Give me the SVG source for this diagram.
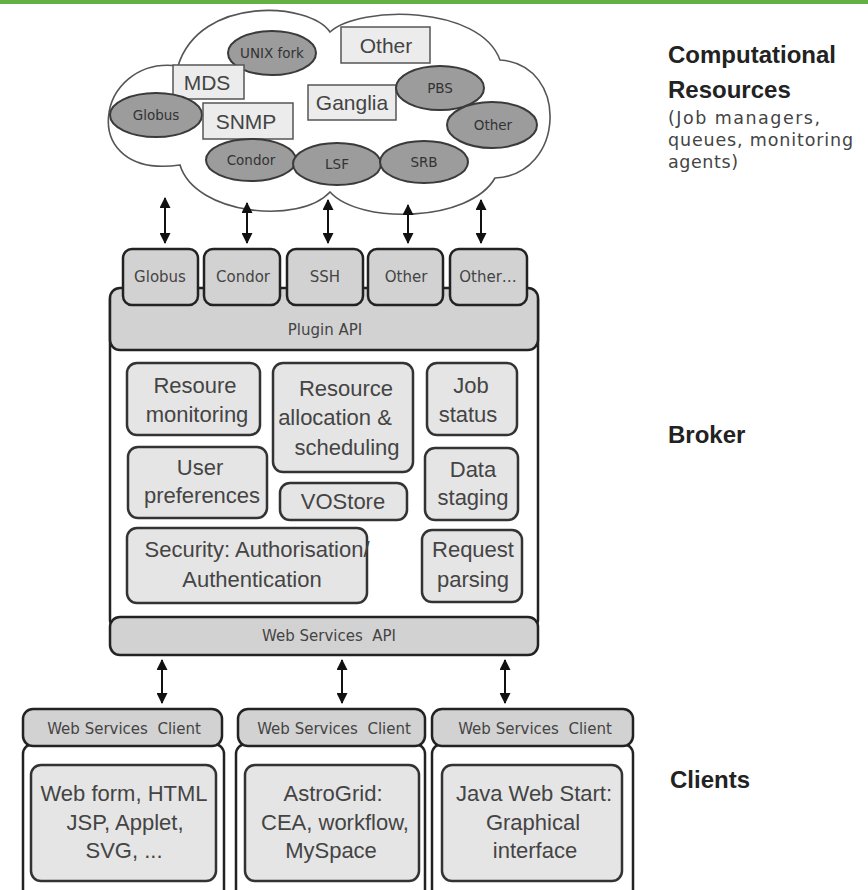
<svg xmlns="http://www.w3.org/2000/svg" width="868" height="890" viewBox="0 0 868 890">
<style>
.ell{fill:#9c9c9c;stroke:#3a3a3a;stroke-width:2}
.rc{fill:#ececec;stroke:#555;stroke-width:1.5}
.et{font-family:"DejaVu Sans",sans-serif;font-size:13.5px;fill:#333;text-anchor:middle}
.rt{font-family:"Liberation Sans",Arial,sans-serif;font-size:21px;fill:#444;text-anchor:middle}
.pb{fill:#d2d2d2;stroke:#222;stroke-width:2.5}
.pt{font-family:"DejaVu Sans",sans-serif;font-size:15px;fill:#444;text-anchor:middle}
.ib{fill:#e5e5e5;stroke:#333;stroke-width:2.5}
.it{font-family:"Liberation Sans",Arial,sans-serif;font-size:22px;fill:#444;text-anchor:middle}
.wb{fill:#fff;stroke:#222;stroke-width:2.5}
.lab{font-family:"Liberation Sans",Arial,sans-serif;font-size:24px;font-weight:bold;fill:#222}
.sub{font-family:"DejaVu Sans",sans-serif;font-size:17.5px;fill:#444}
.conn{stroke:#111;stroke-width:2;fill:none;marker-start:url(#ah);marker-end:url(#ah)}
</style>
<defs>
<marker id="ah" viewBox="0 0 10 10" refX="9" refY="5" markerWidth="12" markerHeight="11" markerUnits="userSpaceOnUse" orient="auto-start-reverse"><path d="M0,0 L10,5 L0,10 z" fill="#111"/></marker>
</defs>
<rect x="0" y="0" width="868" height="890" fill="#fff"/>
<rect x="0" y="0" width="868" height="4" fill="#62b046"/>

<g id="cloud">
<path d="M330,32 C310,2 200,-5 178,66 C95,55 75,180 180,165 C195,215 300,225 330,192 C360,225 470,222 495,178 C565,175 570,65 500,60 C480,5 360,5 330,32 Z" fill="#fff" stroke="#555" stroke-width="1.6"/>
</g>
<g id="res-unixfork"><ellipse class="ell" cx="272" cy="53" rx="44" ry="22"/><text class="et" x="272" y="58" font-size="12">UNIX fork</text></g>
<g id="res-other-rect"><rect class="rc" x="341" y="27" width="89" height="36"/><text class="rt" x="386" y="53">Other</text></g>
<g id="res-mds"><rect class="rc" x="173" y="65" width="71" height="34"/><text class="rt" x="207" y="90">MDS</text></g>
<g id="res-globus"><ellipse class="ell" cx="156" cy="115" rx="46" ry="22"/><text class="et" x="156" y="120">Globus</text></g>
<g id="res-snmp"><rect class="rc" x="203" y="103" width="90" height="36"/><text class="rt" x="246" y="129">SNMP</text></g>
<g id="res-ganglia"><rect class="rc" x="308" y="85" width="88" height="35"/><text class="rt" x="352" y="110">Ganglia</text></g>
<g id="res-pbs"><ellipse class="ell" cx="440" cy="88" rx="44" ry="22"/><text class="et" x="440" y="93">PBS</text></g>
<g id="res-other-ell"><ellipse class="ell" cx="492" cy="125" rx="45" ry="23"/><text class="et" x="493" y="130">Other</text></g>
<g id="res-condor"><ellipse class="ell" cx="251" cy="160" rx="45" ry="21"/><text class="et" x="251" y="165">Condor</text></g>
<g id="res-lsf"><ellipse class="ell" cx="337" cy="164" rx="44" ry="21"/><text class="et" x="337" y="169">LSF</text></g>
<g id="res-srb"><ellipse class="ell" cx="424" cy="162" rx="44" ry="21"/><text class="et" x="424" y="167">SRB</text></g>

<g id="broker-body"><rect class="wb" x="110" y="290" width="428" height="340" rx="10"/></g>
<g id="plugin-api"><rect class="pb" x="110" y="288" width="428" height="62" rx="10"/><text class="pt" x="325" y="335" font-size="14">Plugin API</text></g>
<g id="p-globus"><rect class="pb" x="123" y="249" width="75" height="56" rx="9"/><text class="pt" x="160" y="282">Globus</text></g>
<g id="p-condor"><rect class="pb" x="204" y="249" width="76" height="56" rx="9"/><text class="pt" x="243" y="282">Condor</text></g>
<g id="p-ssh"><rect class="pb" x="287" y="249" width="76" height="56" rx="9"/><text class="pt" x="325" y="282">SSH</text></g>
<g id="p-other"><rect class="pb" x="368" y="249" width="75" height="56" rx="9"/><text class="pt" x="406" y="282">Other</text></g>
<g id="p-other2"><rect class="pb" x="450" y="249" width="77" height="56" rx="9"/><text class="pt" x="488" y="282">Other…</text></g>

<g id="b-monitoring"><rect class="ib" x="127" y="363" width="133" height="72" rx="10"/><text class="it" x="195" y="393">Resoure</text><text class="it" x="197" y="422">monitoring</text></g>
<g id="b-alloc"><rect class="ib" x="273" y="363" width="140" height="109" rx="10"/><text class="it" x="346" y="396">Resource</text><text class="it" x="335" y="425" font-size="18">allocation &amp;</text><text class="it" x="347" y="455">scheduling</text></g>
<g id="b-job"><rect class="ib" x="427" y="363" width="90" height="72" rx="10"/><text class="it" x="471" y="393">Job</text><text class="it" x="468" y="422" font-size="18">status</text></g>
<g id="b-user"><rect class="ib" x="128" y="447" width="139" height="71" rx="10"/><text class="it" x="200" y="475">User</text><text class="it" x="202" y="503">preferences</text></g>
<g id="b-vostore"><rect class="ib" x="280" y="483" width="127" height="37" rx="10"/><text class="it" x="343" y="509">VOStore</text></g>
<g id="b-data"><rect class="ib" x="425" y="448" width="93" height="72" rx="10"/><text class="it" x="473" y="477">Data</text><text class="it" x="473" y="505">staging</text></g>
<g id="b-security"><rect class="ib" x="127" y="528" width="240" height="75" rx="10"/><text class="it" x="257" y="557">Security: Authorisation/</text><text class="it" x="252" y="587">Authentication</text></g>
<g id="b-request"><rect class="ib" x="422" y="530" width="100" height="72" rx="10"/><text class="it" x="473" y="557">Request</text><text class="it" x="473" y="587">parsing</text></g>

<g id="ws-api"><rect class="pb" x="110" y="617" width="428" height="38" rx="10"/><text class="pt" x="329" y="641" font-size="14" xml:space="preserve">Web Services  API</text></g>

<g id="client1"><rect class="wb" x="23" y="744" width="201" height="160" rx="10"/><rect class="pb" x="23" y="709" width="199" height="37" rx="10"/><text class="pt" x="124" y="734" font-size="14" xml:space="preserve">Web Services  Client</text><rect class="ib" x="31" y="765" width="185" height="116" rx="10"/><text class="it" x="124" y="801">Web form, HTML</text><text class="it" x="125" y="830">JSP, Applet,</text><text class="it" x="124" y="858">SVG, ...</text></g>
<g id="client2"><rect class="wb" x="236" y="744" width="189" height="160" rx="10"/><rect class="pb" x="238" y="709" width="187" height="37" rx="10"/><text class="pt" x="334" y="734" font-size="14" xml:space="preserve">Web Services  Client</text><rect class="ib" x="245" y="765" width="174" height="116" rx="10"/><text class="it" x="333" y="801">AstroGrid:</text><text class="it" x="335" y="830">CEA, workflow,</text><text class="it" x="331" y="858">MySpace</text></g>
<g id="client3"><rect class="wb" x="432" y="744" width="201" height="160" rx="10"/><rect class="pb" x="432" y="709" width="201" height="37" rx="10"/><text class="pt" x="535" y="734" font-size="14" xml:space="preserve">Web Services  Client</text><rect class="ib" x="442" y="765" width="180" height="116" rx="10"/><text class="it" x="534" y="801">Java Web Start:</text><text class="it" x="533" y="830">Graphical</text><text class="it" x="535" y="858">interface</text></g>

<g id="connectors">
<line class="conn" x1="165" y1="198" x2="165" y2="243"/>
<line class="conn" x1="247" y1="203" x2="247" y2="243"/>
<line class="conn" x1="328" y1="200" x2="328" y2="243"/>
<line class="conn" x1="408" y1="205" x2="408" y2="243"/>
<line class="conn" x1="481" y1="200" x2="481" y2="243"/>
<line class="conn" x1="162" y1="660" x2="162" y2="703"/>
<line class="conn" x1="342" y1="660" x2="342" y2="703"/>
<line class="conn" x1="505" y1="660" x2="505" y2="703"/>
</g>

<g id="labels">
<text class="lab" x="668" y="63">Computational</text>
<text class="lab" x="668" y="98">Resources</text>
<text class="sub" x="668" y="124" textLength="152" lengthAdjust="spacing">(Job managers,</text>
<text class="sub" x="668" y="146" textLength="185" lengthAdjust="spacing">queues, monitoring</text>
<text class="sub" x="668" y="168" textLength="70" lengthAdjust="spacing">agents)</text>
<text class="lab" x="668" y="443">Broker</text>
<text class="lab" x="670" y="788">Clients</text>
</g>
</svg>
